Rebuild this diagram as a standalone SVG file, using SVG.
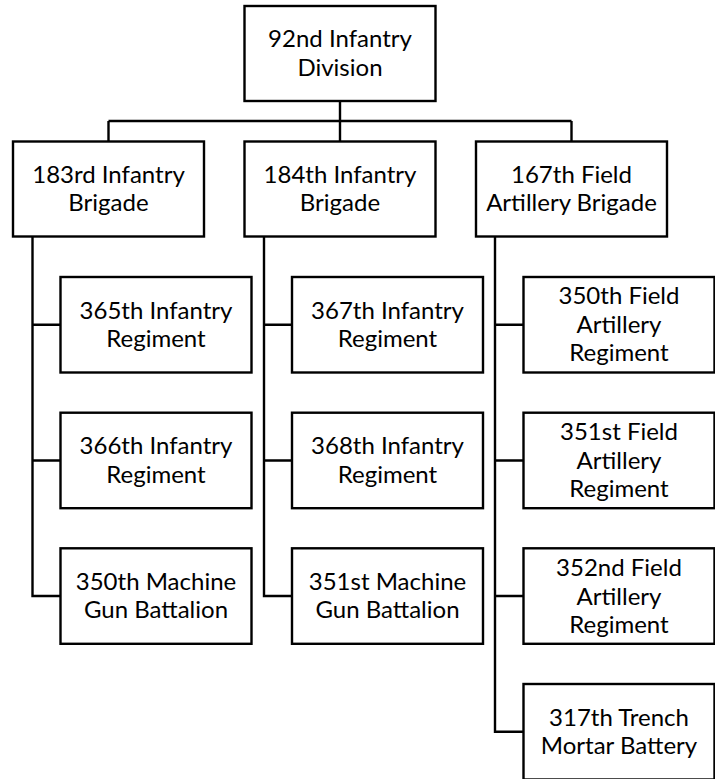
<svg xmlns="http://www.w3.org/2000/svg" width="715" height="779" viewBox="0 0 715 779">
<style>
.box{fill:#fff;stroke:#000;stroke-width:2.4}
.t{font-family:Lato,"Open Sans","Liberation Sans",sans-serif;font-size:24px;fill:#000;text-anchor:middle}
.c{fill:none;stroke:#000;stroke-width:2.4}
</style>
<rect width="715" height="779" fill="#fff"/>
<g id="connectors">
<path class="c" d="M340,101 V121 M108.5,121 H571.5 M108.5,121 V141.5 M340,121 V141.5 M571.5,121 V141.5"/>
<path class="c" d="M32.5,236.5 V596 H60.5 M32.5,324.75 H60.5 M32.5,460.5 H60.5"/>
<path class="c" d="M264,236.5 V596 H292 M264,324.75 H292 M264,460.5 H292"/>
<path class="c" d="M495,236.5 V731.75 H523.5 M495,324.75 H523.5 M495,460.5 H523.5 M495,596 H523.5"/>
</g>
<g id="n-92nd"><rect class="box" x="244.5" y="6" width="191" height="95"/><text class="t" x="340" y="47">92nd Infantry</text><text class="t" x="340" y="75.5">Division</text></g>
<g id="n-183rd"><rect class="box" x="13" y="141.5" width="191" height="95"/><text class="t" x="108.5" y="182.5">183rd Infantry</text><text class="t" x="108.5" y="211">Brigade</text></g>
<g id="n-184th"><rect class="box" x="244.5" y="141.5" width="191" height="95"/><text class="t" x="340" y="182.5">184th Infantry</text><text class="t" x="340" y="211">Brigade</text></g>
<g id="n-167th"><rect class="box" x="476" y="141.5" width="191" height="95"/><text class="t" x="571.5" y="182.5">167th Field</text><text class="t" x="571.5" y="211">Artillery Brigade</text></g>
<g id="n-365th"><rect class="box" x="60.5" y="277" width="191" height="95.5"/><text class="t" x="156" y="318.5">365th Infantry</text><text class="t" x="156" y="347">Regiment</text></g>
<g id="n-366th"><rect class="box" x="60.5" y="412.7" width="191" height="95.5"/><text class="t" x="156" y="454">366th Infantry</text><text class="t" x="156" y="482.5">Regiment</text></g>
<g id="n-350mg"><rect class="box" x="60.5" y="548.3" width="191" height="95.5"/><text class="t" x="156" y="589.5">350th Machine</text><text class="t" x="156" y="618">Gun Battalion</text></g>
<g id="n-367th"><rect class="box" x="292" y="277" width="191" height="95.5"/><text class="t" x="387.5" y="318.5">367th Infantry</text><text class="t" x="387.5" y="347">Regiment</text></g>
<g id="n-368th"><rect class="box" x="292" y="412.7" width="191" height="95.5"/><text class="t" x="387.5" y="454">368th Infantry</text><text class="t" x="387.5" y="482.5">Regiment</text></g>
<g id="n-351mg"><rect class="box" x="292" y="548.3" width="191" height="95.5"/><text class="t" x="387.5" y="589.5">351st Machine</text><text class="t" x="387.5" y="618">Gun Battalion</text></g>
<g id="n-350fa"><rect class="box" x="523.5" y="277" width="191" height="95.5"/><text class="t" x="619" y="304">350th Field</text><text class="t" x="619" y="332.5">Artillery</text><text class="t" x="619" y="361">Regiment</text></g>
<g id="n-351fa"><rect class="box" x="523.5" y="412.7" width="191" height="95.5"/><text class="t" x="619" y="440">351st Field</text><text class="t" x="619" y="468.5">Artillery</text><text class="t" x="619" y="497">Regiment</text></g>
<g id="n-352fa"><rect class="box" x="523.5" y="548.3" width="191" height="95.5"/><text class="t" x="619" y="576">352nd Field</text><text class="t" x="619" y="604.5">Artillery</text><text class="t" x="619" y="633">Regiment</text></g>
<g id="n-317tm"><rect class="box" x="523.5" y="684" width="191" height="95.5"/><text class="t" x="619" y="725.5">317th Trench</text><text class="t" x="619" y="754">Mortar Battery</text></g>
</svg>
